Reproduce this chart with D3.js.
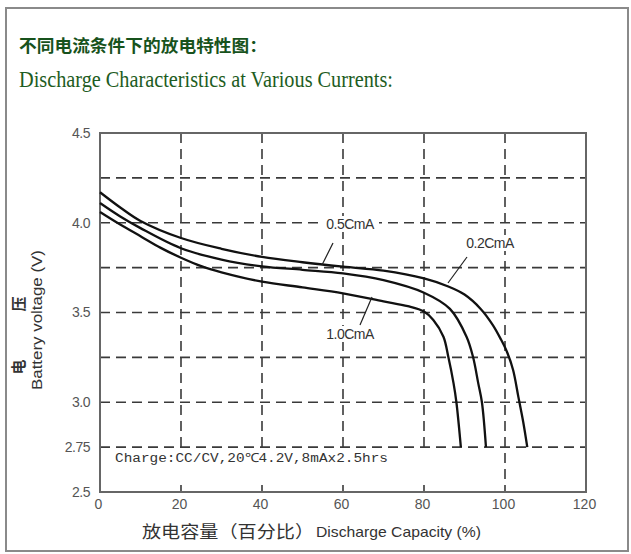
<!DOCTYPE html>
<html>
<head>
<meta charset="utf-8">
<script src="https://cdn.jsdelivr.net/npm/d3@7"></script>
<style>
  html, body { margin: 0; padding: 0; background: #fff; }
  svg { display: block; }
</style>
</head>
<body>
<svg id="chart" width="631" height="554"></svg>
<script>
// ---- Data ----
const titleCN = "不同电流条件下的放电特性图：";
const titleEN = "Discharge Characteristics at Various Currents:";
const xTicks = [0, 20, 40, 60, 80, 100, 120];
const yTickValues = [2.5, 2.75, 3.0, 3.5, 4.0, 4.5];
const yTickLabels = ["2.5", "2.75", "3.0", "3.5", "4.0", "4.5"];
const yGridValues = [2.75, 3.0, 3.25, 3.5, 3.75, 4.0, 4.25];
const xGridValues = [20, 40, 60, 80, 100];

const seriesNames = ["0.2CmA", "0.5CmA", "1.0CmA"];
const cap02 = [0, 5, 10, 20, 30, 40, 50, 60, 70, 80, 86, 90, 94, 97, 99, 100.5, 102, 103.3, 104.5, 105.5];
const volt02 = [4.17, 4.085, 4.01, 3.915, 3.855, 3.81, 3.78, 3.755, 3.733, 3.69, 3.645, 3.6, 3.52, 3.43, 3.35, 3.28, 3.18, 3.03, 2.89, 2.75];
const cap05 = [0, 5, 10, 20, 30, 40, 50, 60, 70, 80, 86.4, 90.5, 92.1, 93.4, 94.3, 95.3];
const volt05 = [4.11, 4.035, 3.97, 3.858, 3.795, 3.757, 3.738, 3.718, 3.68, 3.61, 3.52, 3.365, 3.253, 3.105, 3.0, 2.75];
const cap10 = [0, 5, 10, 15, 20, 25, 30, 40, 50, 60, 70, 76, 80, 82.3, 84.8, 86, 87.3, 88, 89.1];
const volt10 = [4.06, 3.99, 3.925, 3.86, 3.805, 3.758, 3.724, 3.672, 3.64, 3.607, 3.562, 3.535, 3.505, 3.458, 3.365, 3.253, 3.105, 3.0, 2.75];

const chargeNote = "Charge:CC/CV,20℃4.2V,8mAx2.5hrs";
const xLabelCN = "放电容量（百分比）";
const xLabelEN = "Discharge Capacity (%)";
const yLabelEN = "Battery voltage (V)";
const yLabelCN = ["电", "压"];

// ---- Layout ----
const svg = d3.select("#chart");
const pL = 100, pR = 586, pT = 133, pB = 492;
const x = d3.scaleLinear().domain([0, 120]).range([pL, pR]);
const y = d3.scaleLinear().domain([2.5, 4.5]).range([pB, pT]);

// outer frame
svg.append("rect").attr("x", 6).attr("y", 8).attr("width", 622).attr("height", 543)
  .attr("fill", "none").attr("stroke", "#8a8a8a").attr("stroke-width", 2);

// titles
svg.append("text").attr("x", 19).attr("y", 52)
  .attr("font-family", "'Noto Sans CJK SC'").attr("font-weight", "bold")
  .attr("font-size", 16.5).attr("fill", "#17521c")
  .attr("textLength", 248).attr("lengthAdjust", "spacingAndGlyphs")
  .text(titleCN);
svg.append("text").attr("x", 19).attr("y", 87)
  .attr("font-family", "'Liberation Serif', 'DejaVu Serif'")
  .attr("font-size", 24).attr("fill", "#1d5c22")
  .attr("textLength", 374).attr("lengthAdjust", "spacingAndGlyphs")
  .text(titleEN);

// grid lines
const g = svg.append("g");
g.selectAll("line.hg").data(yGridValues).join("line")
  .attr("x1", pL).attr("x2", pR)
  .attr("y1", d => y(d)).attr("y2", d => y(d))
  .attr("stroke", "#3a3a3a").attr("stroke-width", 1.6)
  .attr("stroke-dasharray", "10,6");
g.selectAll("line.vg").data(xGridValues).join("line")
  .attr("y1", pT).attr("y2", pB)
  .attr("x1", d => x(d)).attr("x2", d => x(d))
  .attr("stroke", "#3a3a3a").attr("stroke-width", 1.6)
  .attr("stroke-dasharray", "10,6");

// white band behind the charge note
svg.append("rect").attr("x", pL + 2).attr("y", y(2.75) + 3)
  .attr("width", x(96) - pL).attr("height", 34).attr("fill", "#fff");

// plot frame
svg.append("rect").attr("x", pL).attr("y", pT)
  .attr("width", pR - pL).attr("height", pB - pT)
  .attr("fill", "none").attr("stroke", "#666").attr("stroke-width", 2);

// axes tick labels
const xAxis = d3.axisBottom(x).tickValues(xTicks).tickSize(0).tickPadding(7);
const xa = svg.append("g").attr("transform", `translate(0,${pB})`).call(xAxis);
xa.select(".domain").remove();
xa.selectAll("text").attr("font-family", "'Liberation Sans', Arial").attr("font-size", 14)
  .attr("fill", "#555").attr("dx", -2);

const yAxis = d3.axisLeft(y).tickValues(yTickValues).tickSize(0).tickPadding(10)
  .tickFormat((d, i) => yTickLabels[i]);
const ya = svg.append("g").attr("transform", `translate(${pL},0)`).call(yAxis);
ya.select(".domain").remove();
ya.selectAll("text").attr("font-family", "'Liberation Sans', Arial").attr("font-size", 14)
  .attr("fill", "#555").attr("letter-spacing", "-0.5");

// curves
const series = [
  { name: seriesNames[0], xs: cap02, ys: volt02 },
  { name: seriesNames[1], xs: cap05, ys: volt05 },
  { name: seriesNames[2], xs: cap10, ys: volt10 }
];
const line = d3.line().x(d => x(d[0])).y(d => y(d[1])).curve(d3.curveCatmullRom.alpha(0.5));
svg.append("g").selectAll("path").data(series).join("path")
  .attr("d", s => line(s.xs.map((v, i) => [v, s.ys[i]])))
  .attr("fill", "none").attr("stroke", "#111").attr("stroke-width", 2.3);

// curve annotations (leader lines + labels)
const ann = [
  { label: seriesNames[1], tx: 350, ty: 224, x1: 333, y1: 243, x2: 322, y2: 265 },
  { label: seriesNames[0], tx: 490, ty: 243, x1: 467, y1: 257, x2: 448, y2: 283 },
  { label: seriesNames[2], tx: 350, ty: 334, x1: 372, y1: 297, x2: 360, y2: 325 }
];
const ag = svg.append("g");
ag.selectAll("line").data(ann).join("line")
  .attr("x1", d => d.x1).attr("y1", d => d.y1).attr("x2", d => d.x2).attr("y2", d => d.y2)
  .attr("stroke", "#222").attr("stroke-width", 1.2);
ag.selectAll("rect").data(ann).join("rect")
  .attr("x", d => d.tx - 29).attr("y", d => d.ty - 8).attr("width", 58).attr("height", 16)
  .attr("fill", "#fff");
ag.selectAll("text").data(ann).join("text")
  .attr("x", d => d.tx).attr("y", d => d.ty).attr("dy", "0.35em")
  .attr("text-anchor", "middle")
  .attr("font-family", "'Liberation Sans', Arial").attr("font-size", 14)
  .attr("fill", "#333").attr("letter-spacing", "-0.5")
  .text(d => d.label);

// charge note
svg.append("text").attr("x", 115).attr("y", 462)
  .attr("font-family", "'Liberation Mono', 'DejaVu Sans Mono'").attr("font-size", 12.5)
  .attr("fill", "#333").attr("textLength", 273).attr("lengthAdjust", "spacingAndGlyphs")
  .text(chargeNote);

// x axis label
svg.append("text").attr("x", 142).attr("y", 538)
  .attr("font-family", "'Noto Sans CJK SC'").attr("font-size", 17)
  .attr("fill", "#333").attr("textLength", 172).attr("lengthAdjust", "spacingAndGlyphs")
  .text(xLabelCN);
svg.append("text").attr("x", 316).attr("y", 537)
  .attr("font-family", "'Liberation Sans', Arial").attr("font-size", 15)
  .attr("fill", "#333").attr("textLength", 165).attr("lengthAdjust", "spacingAndGlyphs")
  .text(xLabelEN);

// y axis label
svg.append("text").attr("transform", "translate(42,320) rotate(-90)")
  .attr("text-anchor", "middle")
  .attr("font-family", "'Liberation Sans', Arial").attr("font-size", 15)
  .attr("fill", "#333").attr("textLength", 140).attr("lengthAdjust", "spacingAndGlyphs")
  .text(yLabelEN);
const cnY = [367, 304];
yLabelCN.forEach((ch, i) => {
  svg.append("text").attr("transform", `translate(24,${cnY[i]}) rotate(-90)`)
    .attr("text-anchor", "middle")
    .attr("font-family", "'Noto Sans CJK SC'").attr("font-size", 15).attr("font-weight", "bold")
    .attr("fill", "#333").text(ch);
});
</script>
</body>
</html>
